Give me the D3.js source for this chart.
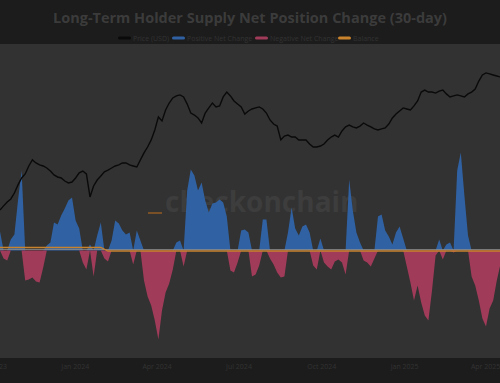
<!DOCTYPE html>
<html>
<head>
<meta charset="utf-8">
<script src="https://cdn.jsdelivr.net/npm/d3@7"></script>
<style>
  html, body { margin: 0; padding: 0; background: #1c1c1c; }
  svg { display: block; font-family: "Open Sans", "DejaVu Sans", sans-serif; }
</style>
</head>
<body>
<svg id="chart"></svg>
<script>
// series sampled every 4 days from this date
const startDate = "2023-10-10";
const stepDays = 4;

// LTH 30-day net position change, thousand BTC
const netChange = [
  114, -48, -60, 66, 96, 300, 480, -180, -174, -162, -186, -192, -102, 30, 48, 168, 156, 210, 252, 300,
  318, 180, 132, -72, -114, 36, -156, 90, 168, -48, -66, 60, 180, 162, 120, 96, 108, -84, 120, 60,
  -180, -276, -330, -420, -534, -360, -252, -198, -114, 48, 60, -96, 360, 486, 450, 360, 408, 300, 228, 282,
  288, 306, 288, 204, -120, -132, -72, 120, 126, 108, -156, -144, -90, 186, 186, -48, -84, -132, -162, -156,
  108, 258, 132, 90, 144, 156, 108, -90, -114, 72, -72, -96, -114, -66, -54, -72, -144, 426, 240, 108,
  48, -60, -72, -96, -48, 204, 216, 120, 84, 36, 108, 144, 72, -96, -192, -300, -210, -312, -390, -420,
  -240, -30, 66, -54, 36, 48, -12, 480, 588, 330, 90, -156, -210, -300, -408, -456, -348, -300, -180, -84
];

// BTC price, USD
const price = [
  27000, 29400, 31700, 33500, 37000, 41800, 45900, 48300, 53000, 56600, 54800, 53600, 53000, 51800, 50000, 47700, 46500, 45900, 44100, 43000,
  43500, 45900, 48900, 50000, 48300, 34700, 41200, 44700, 47100, 49500, 50600, 51800, 53000, 53600, 54800, 54800, 53600, 53000, 52400, 56600,
  60700, 64200, 68400, 74300, 82000, 79600, 86100, 90200, 93200, 94400, 95000, 93800, 89600, 84300, 83100, 81400, 78400, 84300, 87300, 90200,
  87900, 88500, 93800, 96700, 94400, 91400, 89600, 87900, 83700, 85500, 86700, 87300, 87900, 86700, 84300, 80200, 77800, 76600, 68400, 70700,
  71300, 70100, 70100, 68400, 68400, 68400, 66000, 64200, 64200, 64800, 66000, 68400, 70100, 71300, 70100, 73700, 76100, 77200, 76100, 75500,
  76600, 78400, 77200, 76100, 74900, 74300, 74900, 75500, 77800, 81400, 83700, 85500, 87300, 86700, 86100, 88500, 91400, 96700, 97900, 96700,
  96700, 96100, 97300, 97900, 95600, 93800, 94400, 95000, 94400, 93800, 95600, 96700, 98500, 103200, 106800, 108000, 107400, 106800, 106200, 105600
];

// Balance line, thousand BTC (step index, value)
const balanceSteps = [0, 28, 30, 139];
const balanceValues = [18, 18, -3, -3];

const tickDates = ["2023-10-01", "2024-01-01", "2024-04-01", "2024-07-01", "2024-10-01", "2025-01-01", "2025-04-01"];

const legendItems = ["Price (USD)", "Positive Net Change", "Negative Net Change", "Balance"];
const titleText = "Long-Term Holder Supply Net Position Change (30-day)";

const width = 500, height = 383;
const plot = { top: 44, bottom: 358, left: 0, right: 500.4 };

const colors = {
  bg: "#1c1c1c", plotBg: "#323232", title: "#3b3b3b", legendText: "#333333",
  price: "#0a0a0a", pos: "#3062a3", neg: "#a13b5a", balance: "#c9832c", zero: "#8c8c8c"
};

const t0 = d3.isoParse(startDate);
const dayAt = i => d3.timeDay.offset(t0, i * stepDays);

const svg = d3.select("#chart").attr("width", width).attr("height", height);
svg.append("rect").attr("width", width).attr("height", height).attr("fill", colors.bg);
svg.append("rect")
  .attr("x", 0).attr("y", plot.top)
  .attr("width", width).attr("height", plot.bottom - plot.top)
  .attr("fill", colors.plotBg);

const x = d3.scaleTime()
  .domain([t0, dayAt(netChange.length - 1)])
  .range([plot.left, plot.right]);

const yNet = d3.scaleLinear().domain([-645, 1239]).range([plot.bottom, plot.top]);
const yPrice = d3.scaleLinear().domain([-60500, 125100]).range([plot.bottom, plot.top]);

const g = svg.append("g");

// watermark
g.append("line")
  .attr("x1", 148).attr("x2", 162).attr("y1", 213).attr("y2", 213)
  .attr("stroke", "#7a5127").attr("stroke-width", 2);
g.append("text")
  .attr("x", 165).attr("y", 212)
  .attr("font-size", 28).attr("font-weight", "bold")
  .attr("fill", "#3d3d3d")
  .text("checkonchain");

// positive / negative areas
const posArea = d3.area()
  .x((d, i) => x(dayAt(i)))
  .y0(yNet(0))
  .y1(d => yNet(Math.max(0, d)));
const negArea = d3.area()
  .x((d, i) => x(dayAt(i)))
  .y0(yNet(0))
  .y1(d => yNet(Math.min(0, d)));

g.append("path").datum(netChange).attr("d", posArea).attr("fill", colors.pos);
g.append("path").datum(netChange).attr("d", negArea).attr("fill", colors.neg);

// zero line
g.append("line")
  .attr("x1", 0).attr("x2", width)
  .attr("y1", yNet(0) - 1).attr("y2", yNet(0) - 1)
  .attr("stroke", colors.zero).attr("stroke-width", 1).attr("opacity", 0.8);

// balance
const balLine = d3.line()
  .x((d, i) => x(dayAt(balanceSteps[i])))
  .y(d => yNet(d));
g.append("path").datum(balanceValues)
  .attr("d", balLine)
  .attr("fill", "none").attr("stroke", colors.balance).attr("stroke-width", 1.3);

// price
const priceLine = d3.line()
  .x((d, i) => x(dayAt(i)))
  .y(d => yPrice(d));
g.append("path").datum(price)
  .attr("d", priceLine)
  .attr("fill", "none").attr("stroke", colors.price).attr("stroke-width", 1.4);

// x axis
const xAxis = svg.append("g")
  .attr("transform", `translate(0,${plot.bottom})`)
  .call(d3.axisBottom(x)
    .tickValues(tickDates.map(d => d3.isoParse(d)))
    .tickFormat(d3.timeFormat("%b %Y"))
    .tickSize(0)
    .tickPadding(6));
xAxis.select(".domain").remove();
xAxis.selectAll("text")
  .attr("fill", "#333333").attr("font-size", 7)
  .attr("font-family", "'Open Sans', sans-serif");

// title
svg.append("text")
  .attr("x", width / 2).attr("y", 23)
  .attr("text-anchor", "middle")
  .attr("font-size", 14.5).attr("font-weight", "bold")
  .attr("fill", colors.title)
  .text(titleText);

// legend
const legendX = [118, 172, 255, 338];
const legendColors = [colors.price, colors.pos, colors.neg, colors.balance];
const legend = svg.append("g").attr("transform", "translate(0,38)");
legendItems.forEach((name, i) => {
  const item = legend.append("g").attr("transform", `translate(${legendX[i]},0)`);
  item.append("rect")
    .attr("x", 0).attr("y", -1.5).attr("width", 13).attr("height", 3).attr("rx", 1.5)
    .attr("fill", legendColors[i]);
  item.append("text")
    .attr("x", 15).attr("y", 2.5)
    .attr("font-size", 7)
    .attr("fill", colors.legendText)
    .text(name);
});
</script>
</body>
</html>
